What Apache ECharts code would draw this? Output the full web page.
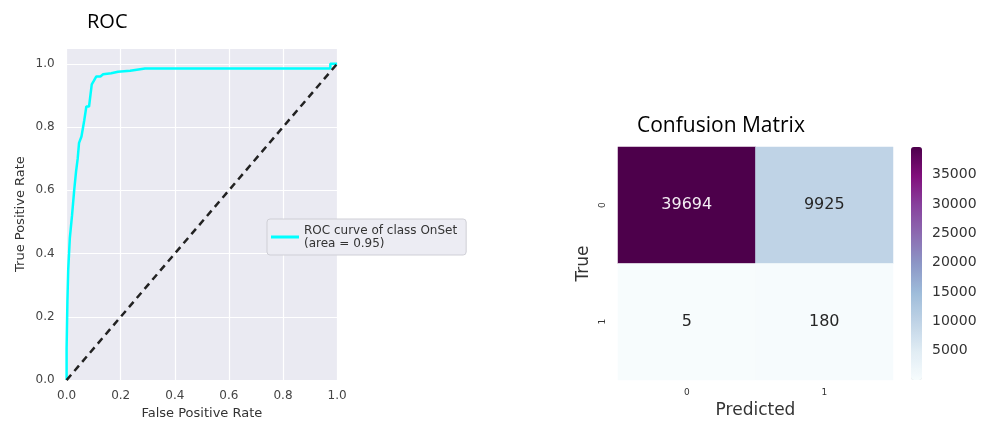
<!DOCTYPE html>
<html>
<head>
<meta charset="utf-8">
<script src="https://cdn.jsdelivr.net/npm/echarts@6/dist/echarts.min.js"></script>
<style>
  html, body { margin: 0; padding: 0; background: #fff; }
  #chart { width: 994px; height: 425px; }
</style>
</head>
<body>
<div id="chart"></div>
<script>
// ROC curve
const rocFpr = [0, 0, 0.003, 0.006, 0.012, 0.02, 0.028, 0.035, 0.041, 0.046, 0.055, 0.065, 0.073, 0.083, 0.088, 0.093, 0.1, 0.11, 0.125, 0.135, 0.165, 0.19, 0.235, 0.29, 0.975, 0.975, 1.0];
const rocTpr = [0, 0.1, 0.25, 0.35, 0.45, 0.52, 0.6, 0.66, 0.7, 0.75, 0.77, 0.82, 0.865, 0.865, 0.9, 0.935, 0.945, 0.96, 0.96, 0.967, 0.97, 0.975, 0.978, 0.985, 0.985, 1.0, 1.0];
const chanceX = [0, 1];
const chanceY = [0, 1];
const rocTicks = [0, 0.2, 0.4, 0.6, 0.8, 1.0];
const rocName = "ROC curve of class OnSet\n(area = 0.95)";

// confusion matrix
const cmClasses = ["0", "1"];
const cmValues = [
  [39694, 9925],
  [5, 180],
];
const cbTicks = [5000, 10000, 15000, 20000, 25000, 30000, 35000];

const BUPU = ["#f7fcfd", "#e0ecf4", "#bfd3e6", "#9ebcda", "#8c96c6", "#8c6bb1", "#88419d", "#810f7c", "#4d004b"];
const TICK_FONT = "DejaVu Sans";
const TITLE_FONT = "Open Sans";

const cmMin = Math.min(...cmValues.flat());
const cmMax = Math.max(...cmValues.flat());

const heatData = [];
cmValues.forEach((row, t) => {
  row.forEach((v, p) => {
    heatData.push({
      value: [p, t, v],
      label: { color: v > (cmMin + cmMax) / 2 ? "#f4eef4" : "#262626" },
    });
  });
});

const chart = echarts.init(document.getElementById("chart"));

chart.setOption({
  animation: false,
  title: [
    { text: "ROC", left: 82, top: 7, textStyle: { fontFamily: TITLE_FONT, fontSize: 20, fontWeight: "normal", color: "#000" } },
    { text: "Confusion Matrix", left: 632, top: 111, textStyle: { fontFamily: TITLE_FONT, fontSize: 21, fontWeight: "normal", color: "#000" } },
  ],
  legend: {
    data: [rocName],
    left: 267,
    top: 219,
    padding: [5, 9, 5, 4],
    icon: "rect",
    itemWidth: 28,
    itemHeight: 3,
    backgroundColor: "#ececf3",
    borderColor: "#cfcfd6",
    borderWidth: 1,
    borderRadius: 3,
    textStyle: { fontFamily: TICK_FONT, fontSize: 12, lineHeight: 13, color: "#333" },
  },
  grid: [
    { left: 66.6, top: 48, width: 270.5, height: 332.5, show: true, backgroundColor: "#eaeaf2", borderWidth: 0 },
    { left: 618, top: 147, width: 275, height: 233 },
    { left: 911, top: 147, width: 11, height: 233 },
  ],
  xAxis: [
    {
      gridIndex: 0,
      type: "value",
      min: 0,
      max: 1,
      interval: 0.2,
      axisLine: { show: false },
      axisTick: { show: false },
      splitLine: { lineStyle: { color: "#fff", width: 1.2 } },
      axisLabel: { color: "#444", fontFamily: TICK_FONT, fontSize: 12, margin: 10, formatter: (v) => v.toFixed(1) },
      name: "False Positive Rate",
      nameLocation: "middle",
      nameGap: 26,
      nameTextStyle: { color: "#333", fontFamily: TICK_FONT, fontSize: 13 },
    },
    {
      gridIndex: 1,
      type: "category",
      data: cmClasses,
      axisLine: { show: false },
      axisTick: { show: false },
      axisLabel: { color: "#333", fontFamily: TICK_FONT, fontSize: 9, margin: 8 },
      name: "Predicted",
      nameLocation: "middle",
      nameGap: 21,
      nameTextStyle: { color: "#333", fontFamily: TICK_FONT, fontSize: 17 },
    },
    { gridIndex: 2, type: "value", show: false },
  ],
  yAxis: [
    {
      gridIndex: 0,
      type: "value",
      min: 0,
      max: 1.05,
      interval: 0.2,
      axisLine: { show: false },
      axisTick: { show: false },
      splitLine: { lineStyle: { color: "#fff", width: 1.2 } },
      axisLabel: { color: "#444", fontFamily: TICK_FONT, fontSize: 12, margin: 12, customValues: rocTicks, formatter: (v) => v.toFixed(1) },
      name: "True Positive Rate",
      nameLocation: "middle",
      nameGap: 39,
      nameTextStyle: { color: "#333", fontFamily: TICK_FONT, fontSize: 13 },
    },
    {
      gridIndex: 1,
      type: "category",
      data: cmClasses,
      inverse: true,
      axisLine: { show: false },
      axisTick: { show: false },
      axisLabel: { color: "#333", fontFamily: TICK_FONT, fontSize: 9, margin: 11, rotate: 90 },
      name: "True",
      nameLocation: "middle",
      nameGap: 26,
      nameTextStyle: { color: "#333", fontFamily: TICK_FONT, fontSize: 17 },
    },
    {
      gridIndex: 2,
      type: "value",
      position: "right",
      min: cmMin,
      max: cmMax,
      axisLine: { show: false },
      splitLine: { show: false },
      axisTick: { show: true, length: 6, customValues: cbTicks, lineStyle: { color: "#333" } },
      axisLabel: { color: "#333", fontFamily: TICK_FONT, fontSize: 14, margin: 10, customValues: cbTicks, formatter: (v) => String(v) },
    },
  ],
  visualMap: {
    type: "continuous",
    seriesIndex: 2,
    min: cmMin,
    max: cmMax,
    calculable: false,
    left: 911,
    top: 147,
    padding: 0,
    itemWidth: 11,
    itemHeight: 233,
    inRange: { color: BUPU },
  },
  series: [
    {
      name: rocName,
      type: "line",
      xAxisIndex: 0,
      yAxisIndex: 0,
      data: rocFpr.map((x, i) => [x, rocTpr[i]]),
      showSymbol: false,
      color: "#00ffff",
      lineStyle: { color: "#00ffff", width: 2.5 },
      z: 3,
    },
    {
      name: "chance",
      type: "line",
      xAxisIndex: 0,
      yAxisIndex: 0,
      data: chanceX.map((x, i) => [x, chanceY[i]]),
      showSymbol: false,
      lineStyle: { color: "#222", width: 2.5, type: [7, 5] },
      z: 4,
    },
    {
      name: "cm",
      type: "heatmap",
      xAxisIndex: 1,
      yAxisIndex: 1,
      data: heatData,
      label: { show: true, fontFamily: TICK_FONT, fontSize: 16, formatter: (p) => p.value[2] },
      emphasis: { disabled: true },
    },
  ],
});
</script>
</body>
</html>
